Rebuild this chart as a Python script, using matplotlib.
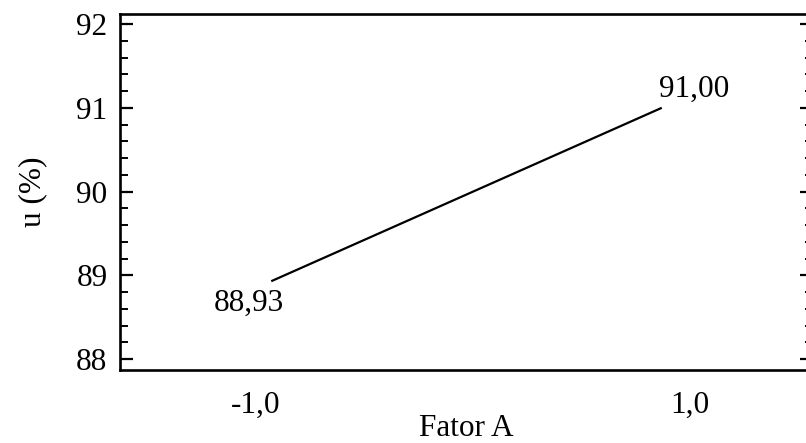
import matplotlib.pyplot as plt
from matplotlib.ticker import MultipleLocator, FixedLocator, FixedFormatter

plt.rcParams["font.family"] = ["Liberation Serif", "DejaVu Serif"]

# fitted response along factor A
FACTOR_A = [-0.93, 0.87]
U_PERCENT = [88.93, 91.00]
END_LABELS = ["88,93", "91,00"]

X_TICKS = [-1.0, 1.0]
X_TICK_LABELS = ["-1,0", "1,0"]
Y_TICKS = [88, 89, 90, 91, 92]

FS = 22.5

fig = plt.figure(figsize=(8.06, 4.43), dpi=100)
# right spine sits just past the image edge, as in the source
ax = fig.add_axes([120 / 806, 73 / 443, 693 / 806, 356 / 443])

ax.plot(FACTOR_A, U_PERCENT, color="black", lw=1.6, solid_capstyle="butt")
ax.annotate(END_LABELS[0], (FACTOR_A[0], U_PERCENT[0]), xytext=(-16, -16),
            textcoords="offset points", ha="center", va="center", fontsize=FS)
ax.annotate(END_LABELS[1], (FACTOR_A[1], U_PERCENT[1]), xytext=(23, 13),
            textcoords="offset points", ha="center", va="center", fontsize=FS)

ax.set_xlim(-1.627, 1.567)
ax.set_ylim(87.87, 92.12)

ax.xaxis.set_major_locator(FixedLocator(X_TICKS))
ax.xaxis.set_major_formatter(FixedFormatter(X_TICK_LABELS))
ax.yaxis.set_major_locator(FixedLocator(Y_TICKS))
ax.yaxis.set_minor_locator(MultipleLocator(0.2))

ax.tick_params(axis="x", length=0, pad=15, labelsize=FS)
ax.tick_params(axis="y", which="major", direction="in", length=9.5, width=1.6,
               pad=9, labelsize=FS, right=True)
ax.tick_params(axis="y", which="minor", direction="in", length=5.5, width=1.4,
               right=True)

for side in ("left", "top", "bottom"):
    ax.spines[side].set_linewidth(1.9)
ax.spines["right"].set_visible(False)

ax.set_xlabel("Fator A", fontsize=FS, labelpad=-4)
ax.set_ylabel("u (%)", fontsize=FS, labelpad=21)

fig.savefig("out.png", dpi=100, facecolor="white")
